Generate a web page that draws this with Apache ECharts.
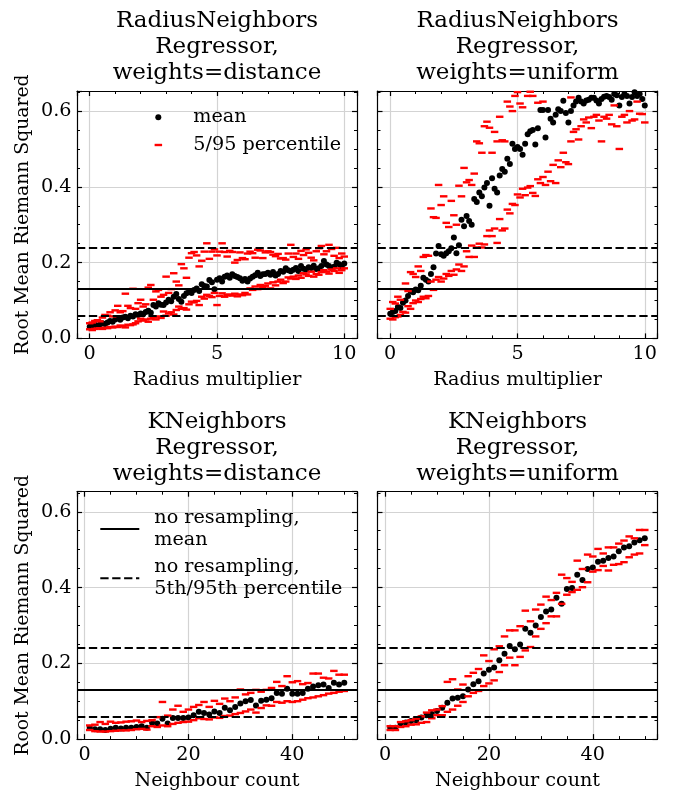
<!DOCTYPE html>
<html><head><meta charset="utf-8">
<script src="https://cdn.jsdelivr.net/npm/echarts@6/dist/echarts.min.js"></script>
<style>html,body{margin:0;padding:0;background:#fff}#c{width:675px;height:793px}</style>
</head><body><div id="c"></div><script>
// ---------------- data ----------------
const RADIUS = [0.0,0.1,0.2,0.3,0.4,0.5,0.6,0.7,0.8,0.9,
 1.0,1.1,1.2,1.3,1.4,1.5,1.6,1.7,1.8,1.9,
 2.0,2.1,2.2,2.3,2.4,2.5,2.6,2.7,2.8,2.9,
 3.0,3.1,3.2,3.3,3.4,3.5,3.6,3.7,3.8,3.9,
 4.0,4.1,4.2,4.3,4.4,4.5,4.6,4.7,4.8,4.9,
 5.0,5.1,5.2,5.3,5.4,5.5,5.6,5.7,5.8,5.9,
 6.0,6.1,6.2,6.3,6.4,6.5,6.6,6.7,6.8,6.9,
 7.0,7.1,7.2,7.3,7.4,7.5,7.6,7.7,7.8,7.9,
 8.0,8.1,8.2,8.3,8.4,8.5,8.6,8.7,8.8,8.9,
 9.0,9.1,9.2,9.3,9.4,9.5,9.6,9.7,9.8,9.9,10.0];

// RadiusNeighbors, weights=distance
const RD_MEAN = [0.031,0.034,0.036,0.033,0.037,0.040,0.038,0.042,0.046,0.044,
 0.050,0.053,0.049,0.055,0.057,0.053,0.060,0.058,0.064,0.062,
 0.066,0.064,0.070,0.073,0.068,0.088,0.084,0.093,0.089,0.088,
 0.095,0.102,0.098,0.110,0.117,0.104,0.097,0.112,0.119,0.123,
 0.120,0.128,0.132,0.125,0.143,0.138,0.137,0.154,0.148,0.130,
 0.155,0.159,0.150,0.163,0.166,0.160,0.169,0.165,0.162,0.159,
 0.152,0.157,0.150,0.158,0.163,0.167,0.173,0.165,0.169,0.170,
 0.173,0.168,0.175,0.166,0.170,0.178,0.176,0.185,0.180,0.177,
 0.181,0.186,0.178,0.191,0.184,0.181,0.188,0.186,0.192,0.183,
 0.185,0.191,0.204,0.195,0.191,0.186,0.189,0.200,0.196,0.190,0.198];
const RD_P95 = [0.040,0.042,0.046,0.048,0.045,0.055,0.062,0.060,0.069,0.058,
 0.074,0.086,0.069,0.072,0.118,0.086,0.080,0.131,0.078,0.093,
 0.102,0.084,0.090,0.134,0.141,0.102,0.124,0.128,0.110,0.115,
 0.163,0.120,0.130,0.172,0.150,0.140,0.196,0.185,0.160,0.213,
 0.225,0.228,0.219,0.190,0.205,0.229,0.251,0.210,0.229,0.235,
 0.219,0.229,0.251,0.228,0.216,0.231,0.228,0.200,0.207,0.227,
 0.212,0.209,0.224,0.229,0.225,0.213,0.234,0.232,0.212,0.227,
 0.230,0.228,0.221,0.217,0.223,0.211,0.212,0.208,0.224,0.247,
 0.215,0.224,0.210,0.231,0.220,0.235,0.226,0.213,0.206,0.230,
 0.238,0.244,0.222,0.230,0.247,0.236,0.218,0.239,0.212,0.224,0.216];
const RD_P5 = [0.024,0.022,0.025,0.026,0.027,0.025,0.028,0.027,0.030,0.029,
 0.031,0.030,0.034,0.032,0.029,0.036,0.035,0.037,0.040,0.045,
 0.052,0.047,0.050,0.044,0.052,0.055,0.050,0.058,0.054,0.071,
 0.060,0.066,0.069,0.063,0.075,0.084,0.078,0.080,0.076,0.090,
 0.097,0.095,0.099,0.088,0.110,0.105,0.115,0.112,0.109,0.120,
 0.088,0.112,0.119,0.110,0.114,0.116,0.113,0.118,0.111,0.116,
 0.114,0.120,0.116,0.132,0.128,0.137,0.130,0.141,0.136,0.139,
 0.145,0.132,0.148,0.140,0.150,0.155,0.146,0.150,0.161,0.158,
 0.163,0.157,0.166,0.160,0.172,0.169,0.165,0.176,0.163,0.170,
 0.168,0.175,0.180,0.176,0.171,0.182,0.178,0.185,0.173,0.180,0.185];

// RadiusNeighbors, weights=uniform
const RU_MEAN = [0.065,0.070,0.072,0.083,0.080,0.094,0.100,0.112,0.125,0.122,
 0.129,0.127,0.139,0.160,0.155,0.150,0.170,0.188,0.224,0.244,
 0.222,0.218,0.225,0.230,0.238,0.266,0.225,0.246,0.313,0.296,
 0.323,0.310,0.300,0.368,0.360,0.385,0.375,0.398,0.410,0.350,
 0.423,0.395,0.385,0.430,0.447,0.440,0.474,0.460,0.514,0.500,
 0.505,0.500,0.485,0.514,0.539,0.547,0.550,0.512,0.555,0.603,
 0.603,0.530,0.603,0.580,0.570,0.590,0.605,0.600,0.627,0.595,
 0.570,0.600,0.615,0.625,0.635,0.625,0.620,0.628,0.630,0.635,
 0.635,0.628,0.620,0.632,0.638,0.640,0.637,0.630,0.645,0.642,
 0.615,0.637,0.645,0.640,0.620,0.637,0.650,0.640,0.645,0.632,0.615];
const RU_P95 = [0.078,0.096,0.092,0.110,0.102,0.130,0.145,0.125,0.175,0.170,
 0.162,0.190,0.178,0.215,0.220,0.218,0.343,0.320,0.318,0.405,
 0.352,0.375,0.305,0.294,0.363,0.325,0.300,0.403,0.375,0.450,
 0.412,0.418,0.405,0.435,0.520,0.515,0.490,0.560,0.572,0.556,
 0.490,0.545,0.520,0.585,0.523,0.520,0.625,0.612,0.600,0.640,
 0.650,0.620,0.610,0.670,0.640,0.651,0.640,0.668,0.622,0.680,
 0.625,0.672,0.690,0.668,0.700,0.675,0.710,0.690,0.720,0.700,
 0.690,0.636,0.700,0.720,0.710,0.730,0.700,0.720,0.740,0.710,
 0.730,0.720,0.740,0.710,0.730,0.750,0.720,0.740,0.730,0.760,
 0.720,0.740,0.750,0.730,0.760,0.740,0.750,0.770,0.740,0.750,0.760];
const RU_P5 = [0.052,0.050,0.056,0.058,0.062,0.070,0.068,0.085,0.078,0.093,
 0.100,0.096,0.104,0.110,0.106,0.112,0.150,0.128,0.155,0.162,
 0.150,0.158,0.170,0.165,0.178,0.168,0.182,0.195,0.178,0.190,
 0.230,0.215,0.245,0.215,0.240,0.250,0.240,0.248,0.270,0.285,
 0.270,0.290,0.252,0.315,0.285,0.290,0.340,0.330,0.355,0.352,
 0.380,0.372,0.395,0.378,0.398,0.402,0.384,0.376,0.420,0.410,
 0.426,0.405,0.440,0.415,0.458,0.410,0.470,0.452,0.490,0.465,
 0.460,0.520,0.545,0.552,0.525,0.560,0.578,0.570,0.583,0.555,
 0.585,0.590,0.575,0.520,0.585,0.580,0.590,0.565,0.615,0.560,
 0.500,0.585,0.590,0.570,0.600,0.575,0.578,0.625,0.593,0.592,0.570];

const NEIGHBOURS = [1,2,3,4,5,6,7,8,9,10,11,12,13,14,15,16,17,18,19,20,
 21,22,23,24,25,26,27,28,29,30,31,32,33,34,35,36,37,38,39,40,
 41,42,43,44,45,46,47,48,49,50];

// KNeighbors, weights=distance
const KD_MEAN = [0.030,0.026,0.026,0.024,0.027,0.030,0.028,0.030,0.030,0.032,
 0.034,0.030,0.043,0.041,0.054,0.041,0.056,0.056,0.056,0.057,
 0.063,0.072,0.069,0.065,0.073,0.069,0.083,0.076,0.085,0.094,
 0.100,0.103,0.089,0.101,0.104,0.108,0.122,0.120,0.133,0.120,
 0.120,0.122,0.133,0.139,0.142,0.144,0.135,0.149,0.144,0.149];
const KD_P95 = [0.036,0.038,0.045,0.040,0.046,0.043,0.044,0.046,0.047,0.049,
 0.045,0.048,0.050,0.058,0.098,0.062,0.078,0.088,0.072,0.078,
 0.085,0.090,0.098,0.085,0.101,0.093,0.107,0.100,0.110,0.131,
 0.118,0.122,0.130,0.125,0.130,0.135,0.151,0.140,0.166,0.150,
 0.153,0.145,0.148,0.173,0.173,0.162,0.160,0.180,0.170,0.170];
const KD_P5 = [0.024,0.021,0.020,0.020,0.021,0.022,0.023,0.023,0.024,0.026,
 0.027,0.025,0.034,0.032,0.036,0.034,0.040,0.043,0.045,0.046,
 0.050,0.055,0.053,0.052,0.057,0.056,0.061,0.062,0.066,0.069,
 0.073,0.078,0.070,0.082,0.089,0.088,0.098,0.096,0.100,0.098,
 0.100,0.104,0.108,0.110,0.113,0.116,0.120,0.122,0.125,0.127];

// KNeighbors, weights=uniform
const KU_MEAN = [0.030,0.030,0.040,0.044,0.048,0.050,0.057,0.063,0.066,0.074,
 0.083,0.096,0.107,0.109,0.113,0.131,0.145,0.153,0.173,0.183,
 0.189,0.208,0.225,0.246,0.237,0.250,0.291,0.281,0.300,0.322,
 0.337,0.342,0.373,0.357,0.396,0.399,0.434,0.420,0.449,0.453,
 0.468,0.471,0.478,0.482,0.496,0.506,0.509,0.519,0.525,0.530];
const KU_P95 = [0.034,0.034,0.045,0.047,0.050,0.054,0.060,0.070,0.076,0.078,
 0.087,0.151,0.158,0.131,0.144,0.166,0.175,0.185,0.221,0.206,
 0.237,0.245,0.271,0.287,0.287,0.298,0.339,0.311,0.342,0.355,
 0.376,0.367,0.386,0.434,0.425,0.415,0.471,0.449,0.487,0.482,
 0.502,0.490,0.506,0.506,0.516,0.524,0.535,0.530,0.552,0.552];
const KU_P5 = [0.024,0.024,0.032,0.034,0.038,0.039,0.043,0.045,0.055,0.063,
 0.063,0.072,0.078,0.088,0.098,0.113,0.122,0.127,0.140,0.147,
 0.155,0.177,0.195,0.215,0.195,0.217,0.234,0.243,0.271,0.291,
 0.306,0.324,0.324,0.357,0.381,0.388,0.394,0.401,0.414,0.442,
 0.446,0.457,0.445,0.460,0.462,0.467,0.480,0.487,0.490,0.512];

// reference lines (no resampling)
const NR_MEAN = 0.128;
const NR_P5 = 0.059;
const NR_P95 = 0.245;

const TITLES = ['RadiusNeighbors\nRegressor,\nweights=distance','RadiusNeighbors\nRegressor,\nweights=uniform',
                'KNeighbors\nRegressor,\nweights=distance','KNeighbors\nRegressor,\nweights=uniform'];
const X_NAMES = ['Radius multiplier','Radius multiplier','Neighbour count','Neighbour count'];
const Y_NAME = 'Root Mean Riemann Squared';
const LEG_MEAN = 'mean', LEG_PCT = '5/95 percentile';
const LEG_NR_MEAN = 'no resampling,\nmean', LEG_NR_PCT = 'no resampling,\n5th/95th percentile';

// ---------------- layout / styling ----------------
const FONT = 'DejaVu Serif';
const W = 280, H = 247.4;
const panels = [
  {x:RADIUS, mean:RD_MEAN, p5:RD_P5, p95:RD_P95, left:77,    top:91,    xmin:-0.5,  xmax:10.5,  xint:5,  minor:5, split:2, ylab:true},
  {x:RADIUS, mean:RU_MEAN, p5:RU_P5, p95:RU_P95, left:377.5, top:91,    xmin:-0.5,  xmax:10.5,  xint:5,  minor:5, split:2, ylab:false},
  {x:NEIGHBOURS, mean:KD_MEAN, p5:KD_P5, p95:KD_P95, left:77,    top:491.7, xmin:-1.45, xmax:52.45, xint:20, minor:4, split:3, ylab:true},
  {x:NEIGHBOURS, mean:KU_MEAN, p5:KU_P5, p95:KU_P95, left:377.5, top:491.7, xmin:-1.45, xmax:52.45, xint:20, minor:4, split:3, ylab:false}
];
const YMIN = 0, YMAX = 0.653, YINT = 0.2;

const frameLine = {show:true, onZero:false, lineStyle:{color:'#000', width:1.2}};
const tick = {show:true, inside:true, length:5, lineStyle:{color:'#000', width:1.2}};
const lbl = {fontSize:19.2, fontFamily:FONT, color:'#000'};
const grid = [], xAxis = [], yAxis = [], series = [], title = [];

panels.forEach((p, g) => {
  grid.push({left:p.left, top:p.top, width:W, height:H});
  title.push({text:TITLES[g], left:p.left + W/2, top:p.top - 82.5, textAlign:'center', padding:0,
    textStyle:{fontFamily:FONT, fontSize:23, fontWeight:'normal', color:'#000', lineHeight:25.8}});
  const xBase = {gridIndex:g, type:'value', min:p.xmin, max:p.xmax, minInterval:p.xint, maxInterval:p.xint,
    splitNumber:p.split, axisLine:frameLine, axisTick:tick,
    minorTick:{show:true, splitNumber:p.minor, length:3, lineStyle:{color:'#000', width:1}}};
  xAxis.push(Object.assign({}, xBase, {position:'bottom',
    axisLabel:Object.assign({show:true, showMinLabel:false, showMaxLabel:false, margin:6}, lbl),
    splitLine:{show:true, showMinLine:false, showMaxLine:false, lineStyle:{color:'#d3d3d3', width:1.2}},
    name:X_NAMES[g], nameLocation:'middle', nameGap:32.5, nameTextStyle:lbl}));
  xAxis.push(Object.assign({}, xBase, {position:'top', axisLabel:{show:false}, splitLine:{show:false}}));
  const yBase = {gridIndex:g, type:'value', min:YMIN, max:YMAX, minInterval:YINT, maxInterval:YINT, splitNumber:3,
    axisLine:frameLine, axisTick:tick,
    minorTick:{show:true, splitNumber:4, length:3, lineStyle:{color:'#000', width:1}}};
  const yl = Object.assign({}, yBase, {position:'left',
    axisLabel:Object.assign({show:p.ylab, showMaxLabel:false, margin:5.5, formatter:v => v.toFixed(1)}, lbl),
    splitLine:{show:true, showMinLine:false, showMaxLine:false, lineStyle:{color:'#d3d3d3', width:1.2}}});
  if (p.ylab) Object.assign(yl, {name:Y_NAME, nameLocation:'middle', nameRotate:90, nameGap:44,
    nameTextStyle:Object.assign({}, lbl, {fontSize:18.8})});
  yAxis.push(yl);
  yAxis.push(Object.assign({}, yBase, {position:'right', axisLabel:{show:false}, splitLine:{show:false}}));

  const ax = {xAxisIndex:2*g, yAxisIndex:2*g};
  series.push(Object.assign({type:'scatter', name:LEG_MEAN, data:p.x.map((v,i)=>[v, p.mean[i]]),
    symbol:'circle', symbolSize:6, itemStyle:{color:'#000', opacity:1}, clip:true, z:2, emphasis:{disabled:true}}, ax));
  series.push(Object.assign({type:'scatter', name:LEG_PCT,
    data:p.x.map((v,i)=>[v, p.p5[i]]).concat(p.x.map((v,i)=>[v, p.p95[i]])),
    symbol:'rect', symbolSize:[7.5,2.4], itemStyle:{color:'#ff0000', opacity:1}, clip:true, z:3, emphasis:{disabled:true}}, ax));
  series.push(Object.assign({type:'line', name:LEG_NR_MEAN, data:[], symbol:'none', showSymbol:false,
    itemStyle:{color:'#000'}, lineStyle:{color:'#000', width:2, type:'solid'}, z:4,
    markLine:{silent:true, symbol:['none','none'], label:{show:false}, animation:false,
      lineStyle:{color:'#000', width:2, type:'solid'}, data:[{yAxis:NR_MEAN}]}}, ax));
  series.push(Object.assign({type:'line', name:LEG_NR_PCT, data:[], symbol:'none', showSymbol:false,
    itemStyle:{color:'#000'}, lineStyle:{color:'#000', width:2, type:[8.3,3.6]}, z:4,
    markLine:{silent:true, symbol:['none','none'], label:{show:false}, animation:false,
      lineStyle:{color:'#000', width:2, type:[8.3,3.6]}, data:[{yAxis:NR_P5},{yAxis:NR_P95}]}}, ax));
});

const legTxt = Object.assign({lineHeight:21.6}, lbl);
const legend = [
  {data:[{name:LEG_MEAN, icon:'circle'}], left:155.3, top:106.5, itemWidth:6, itemHeight:6, padding:0,
   selectedMode:false, itemStyle:{opacity:1}, textStyle:Object.assign({padding:[0,0,0,27]}, legTxt)},
  {data:[{name:LEG_PCT, icon:'rect'}], left:154.6, top:134.2, itemWidth:7.5, itemHeight:2.4, padding:0,
   selectedMode:false, itemStyle:{opacity:1}, textStyle:Object.assign({padding:[0,0,0,26.2]}, legTxt)},
  {data:[LEG_NR_MEAN, LEG_NR_PCT], orient:'vertical', left:99.3, top:507.4, itemWidth:39, itemHeight:14,
   itemGap:6, padding:0, selectedMode:false, itemStyle:{opacity:0, color:'transparent', borderWidth:0},
   textStyle:Object.assign({padding:[0,0,0,10]}, legTxt)}
];

const chart = echarts.init(document.getElementById('c'), null, {renderer:'canvas'});
chart.setOption({backgroundColor:'#fff', animation:false, textStyle:{fontFamily:FONT},
  title, legend, grid, xAxis, yAxis, series});
</script></body></html>
